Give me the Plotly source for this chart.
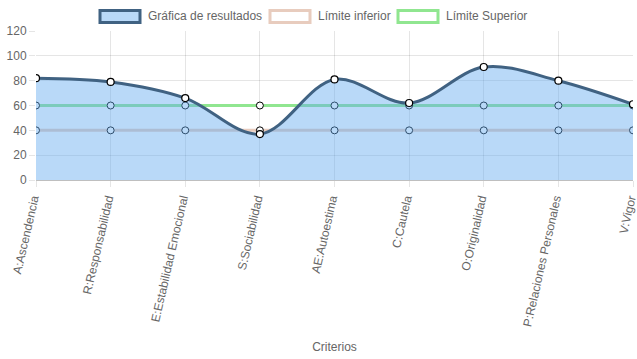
import plotly.graph_objects as go

categories = ["A:Ascendencia", "R:Responsabilidad", "E:Estabilidad Emocional", "S:Sociabilidad",
              "AE:Autoestima", "C:Cautela", "O:Originalidad", "P:Relaciones Personales", "V:Vigor"]
resultados = [82, 79, 66, 37, 81, 62, 91, 80, 61]
limite_inferior = [40, 40, 40, 40, 40, 40, 40, 40, 40]
limite_superior = [60, 60, 60, 60, 60, 60, 60, 60, 60]
y_ticks = [0, 20, 40, 60, 80, 100, 120]
series_names = ["Gráfica de resultados", "Límite inferior", "Límite Superior"]

FONT = "Liberation Sans, Arial, Helvetica, sans-serif"
GRAY = "#666666"
BLUE_FILL = "rgba(100,170,240,0.45)"
BLUE_LINE = "rgb(64,98,130)"
PEACH = "rgb(232,204,190)"
GREEN = "rgb(144,230,144)"

W, H = 637, 359
ML, MR, MT, MB = 36, 4, 31, 179
PW, PH = W - ML - MR, H - MT - MB

fig = go.Figure()

# limits on the base axes (drawn underneath)
fig.add_trace(go.Scatter(
    x=categories, y=limite_inferior, name=series_names[1], mode="lines+markers",
    line=dict(color=PEACH, width=3),
    marker=dict(size=7, color="white", line=dict(color="black", width=1)),
))
fig.add_trace(go.Scatter(
    x=categories, y=limite_superior, name=series_names[2], mode="lines+markers",
    line=dict(color=GREEN, width=3),
    marker=dict(size=7, color="white", line=dict(color="black", width=1)),
))
# results on an overlaid twin axis so its translucent fill covers the limit lines
fig.add_trace(go.Scatter(
    x=categories, y=resultados, name=series_names[0], mode="lines+markers",
    xaxis="x2", yaxis="y2",
    line=dict(color=BLUE_LINE, width=3, shape="spline", smoothing=1.0),
    fill="tozeroy", fillcolor=BLUE_FILL,
    marker=dict(size=7, color="white", line=dict(color="black", width=1.2)),
))

def px_x(px):
    return (px - ML) / PW

def px_y(py):
    return (H - MB - py) / PH

legend_items = [  # (box left px, fill, border)
    (100, "rgb(185,217,248)", BLUE_LINE),
    (270, "white", PEACH),
    (398, "white", GREEN),
]
shapes = []
annotations = []
for (bx, fc, lc), name in zip(legend_items, series_names):
    shapes.append(dict(type="rect", xref="paper", yref="paper",
                       x0=px_x(bx), x1=px_x(bx + 40), y0=px_y(22.5), y1=px_y(10.5),
                       fillcolor=fc, line=dict(color=lc, width=3), layer="above"))
    annotations.append(dict(text=name, xref="paper", yref="paper", x=px_x(bx + 46), y=px_y(16),
                            xanchor="left", yanchor="middle", showarrow=False,
                            font=dict(size=12, color=GRAY, family=FONT)))

fig.update_layout(
    width=W, height=H,
    margin=dict(l=ML, r=MR, t=MT, b=MB),
    paper_bgcolor="white", plot_bgcolor="white",
    font=dict(family=FONT, size=12, color=GRAY),
    showlegend=False,
    shapes=shapes, annotations=annotations,
    xaxis=dict(
        type="category", range=[0, 8], showgrid=True, gridcolor="rgba(0,0,0,0.1)",
        ticks="outside", ticklen=6, tickcolor="rgba(0,0,0,0.1)",
        tickangle=-77, tickfont=dict(size=12, color=GRAY), automargin=False,
        ticklabelshift=-3,
        showline=False, zeroline=False,
        title=dict(text="Criterios", font=dict(size=12, color=GRAY), standoff=15),
    ),
    yaxis=dict(
        range=[0, 120], tickvals=y_ticks, showgrid=True, gridcolor="rgba(0,0,0,0.1)",
        ticks="outside", ticklen=6, tickcolor="rgba(0,0,0,0.1)", automargin=False,
        tickfont=dict(size=12, color=GRAY), zeroline=True, zerolinecolor="rgba(0,0,0,0.25)",
        zerolinewidth=1, showline=False,
    ),
    xaxis2=dict(type="category", range=[0, 8], overlaying="x", visible=False, automargin=False),
    yaxis2=dict(range=[0, 120], overlaying="y", visible=False, automargin=False),
)

fig.write_html("out.html", config={"displayModeBar": False},
               post_script="document.body.style.margin='0px';document.body.style.overflow='hidden';")
